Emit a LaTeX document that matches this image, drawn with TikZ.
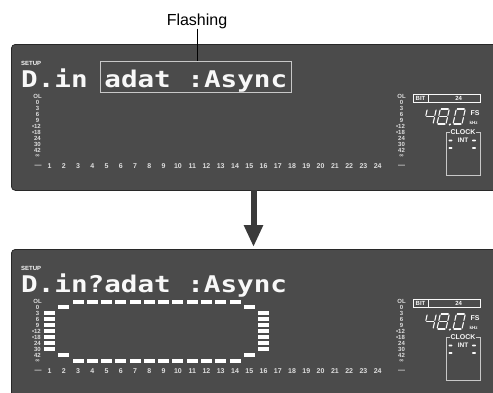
\documentclass[tikz,border=0pt]{standalone}
\usepackage{fontspec}
\setmainfont{Liberation Sans}
\newfontfamily\lcdfont[FakeStretch=1.2]{DejaVu Sans Mono}
\usetikzlibrary{arrows.meta,calc}

\definecolor{lcdbg}{RGB}{75,75,75}
\definecolor{lcdedge}{RGB}{40,40,40}
\definecolor{lcdtext}{RGB}{248,248,248}
\definecolor{scalegray}{RGB}{222,222,222}
\definecolor{boxgray}{RGB}{200,200,200}
\definecolor{arrowgray}{RGB}{58,58,58}

% seven segment parts of one digit (a..g)
\newcommand\lcdsega{(1,-15) -- (8,-15)}
\newcommand\lcdsegb{(9,-14) -- (9,-8.5)}
\newcommand\lcdsegc{(9,-6.5) -- (9,-1)}
\newcommand\lcdsegd{(1,0) -- (8,0)}
\newcommand\lcdsege{(0,-6.5) -- (0,-1)}
\newcommand\lcdsegf{(0,-14) -- (0,-8.5)}
\newcommand\lcdsegg{(1,-7.5) -- (8,-7.5)}
\newcommand\lcddigit[2]{%
  \foreach \s in {#2}{%
    \expandafter\let\expandafter\segpath\csname lcdseg\s\endcsname
    \draw[segline, xshift=#1pt] \segpath;}}

\begin{document}
\begin{tikzpicture}[x=1pt, y=-1pt, >=Stealth, every node/.style={inner sep=0pt},
  panel/.style={fill=lcdbg, draw=lcdedge, line width=0.8pt, rounded corners=4pt},
  lcdtxt/.style={text=lcdtext, font=\lcdfont\bfseries\fontsize{23}{23}\selectfont, anchor=base west},
  tinylbl/.style={text=scalegray, font=\fontsize{6}{6}\selectfont\bfseries},
  chnum/.style={text=scalegray, font=\fontsize{7}{7}\selectfont\bfseries},
  bitcell/.style={draw=lcdtext, line width=0.6pt, minimum height=8pt, text=lcdtext,
    font=\fontsize{6}{6}\selectfont\bfseries},
  clocklbl/.style={text=lcdtext, font=\fontsize{6.5}{6.5}\selectfont\bfseries},
  segline/.style={draw=lcdtext, line width=1.1pt, line cap=round},
  meterbar/.style={fill=white, draw=none},
  bigarrow/.style={draw=arrowgray, line width=6pt, -{Triangle[width=18pt,length=22pt]}}]

  % parameters
  \def\chpitch{14.27}   % distance between channel columns
  \def\chfirst{49.5}    % x of channel 1
  \def\rowpitch{5.95}   % distance between meter rows
  \def\rowtop{96.5}     % y of the OL row, upper panel
  \def\panelgap{205}    % offset of the lower panel

  \useasboundingbox (0,0) rectangle (493,392);
  \clip (0,0) rectangle (493,392);

  % the two displays
  \node[panel, anchor=north west, minimum width=520pt, minimum height=146pt] (panelA) at (11,44) {};
  \node[panel, anchor=north west, minimum width=520pt, minimum height=160pt] (panelB) at (11,249) {};

  % parts shown on both displays
  \foreach \p/\py in {A/0, B/\panelgap}{
    \begin{scope}[shift={(0,\py)}]
      \node[tinylbl, text=lcdtext, anchor=west] (setup\p) at (21,63) {SETUP};

      % level scales
      \foreach \lbl [count=\i from 0] in {OL,0,3,6,9,{\llap{•}12},{\llap{•}18},24,30,42,∞}{
        \node[tinylbl] (lscale\p\i) at (37.5,{\rowtop+\i*\rowpitch}) {\lbl};
        \node[tinylbl] (rscale\p\i) at (401.5,{\rowtop+\i*\rowpitch}) {\lbl};
      }

      % channel numbers
      \node[chnum] (ldash\p) at (38,166) {—};
      \foreach \n in {1,...,24}
        \node[chnum] (ch\p\n) at ({\chfirst+(\n-1)*\chpitch},166) {\n};
      \node[chnum] (rdash\p) at (401.5,166) {—};

      % bit depth
      \node[bitcell, minimum width=15pt] (bit\p) at (420.5,98) {BIT};
      \node[bitcell, minimum width=52pt, anchor=west] (bitval\p) at (bit\p.east) {\hspace{8pt}24};

      % sampling frequency
      \begin{scope}[shift={(424,124)}, xslant=0.22]
        \lcddigit{0}{f,g,b,c}
        \lcddigit{13}{a,b,c,d,e,f,g}
        \fill[lcdtext] (26,0.5) circle (1.2);
        \lcddigit{29}{a,b,c,d,e,f}
      \end{scope}
      \node[clocklbl, font=\fontsize{7}{7}\selectfont\bfseries] (fs\p) at (475,113) {FS};
      \node[clocklbl, font=\fontsize{4.5}{4.5}\selectfont\bfseries] (khz\p) at (473.5,122.5) {kHz};

      % clock source
      \draw[boxgray, line width=0.7pt] (446,132) rectangle (480,175);
      \node[clocklbl, fill=lcdbg, inner xsep=1pt, font=\fontsize{7}{7}\selectfont\bfseries] (clock\p) at (463,132) {CLOCK};
      \node[clocklbl] (int\p) at (463,140.5) {INT};
      \foreach \mx/\my in {450.5/140.5, 474/140.5, 450.5/148, 474/148}
        \fill[lcdtext, rounded corners=0.6pt] (\mx-1.8,\my-0.9) rectangle (\mx+1.8,\my+0.9);
    \end{scope}
  }

  % upper display
  \node[lcdtxt] (titleA) at (21,87) {D.in};
  \node[lcdtxt, draw=boxgray, line width=0.8pt, inner xsep=4pt, text height=26pt, text depth=5pt] (flashbox) at (100,87) {adat :Async};
  \node[font=\fontsize{16}{16}\selectfont, anchor=base] (flash) at (197,25) {Flashing};
  \draw[line width=0.8pt] (flash.south) -- (flash.south |- flashbox.north);

  % arrow down to the lower display
  \coordinate (arrtop) at (253.5,190);
  \draw[bigarrow, shorten >=2pt] (arrtop) -- (arrtop |- panelB.north);

  % lower display
  \node[lcdtxt] (titleB) at (21,292) {D.in?adat :Async};
  \foreach \ch/\rows in {1/{2,3,4,5,6,7,8}, 2/{1,9}, 15/{1,9}, 16/{2,3,4,5,6,7,8}}
    \foreach \r in \rows
      \fill[meterbar] ({\chfirst+(\ch-1)*\chpitch-5.5},{\rowtop+\panelgap+\r*\rowpitch-2}) rectangle ++(11,4);
  \foreach \ch in {3,...,14}
    \foreach \r in {0,10}
      \fill[meterbar] ({\chfirst+(\ch-1)*\chpitch-5.5},{\rowtop+\panelgap+\r*\rowpitch-2}) rectangle ++(11,4);
\end{tikzpicture}
\end{document}
